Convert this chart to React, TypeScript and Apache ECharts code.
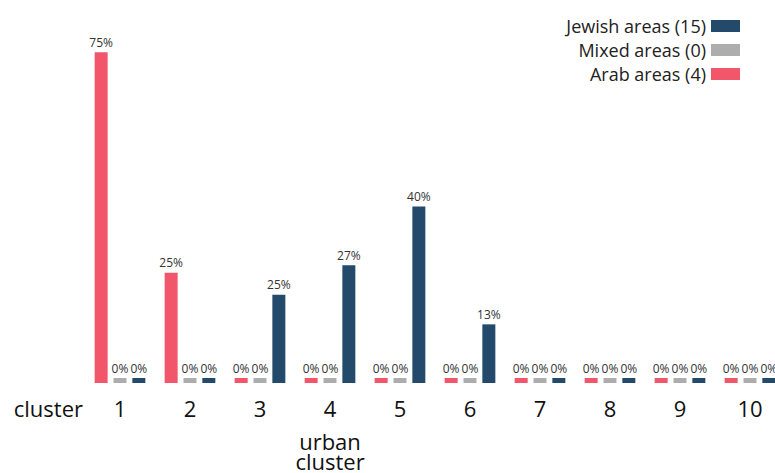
import React, { useEffect, useRef } from "react";
import * as echarts from "echarts";

const categories = ["1", "2", "3", "4", "5", "6", "7", "8", "9", "10"];
const arabValues = [75, 25, 0, 0, 0, 0, 0, 0, 0, 0];
const mixedValues = [0, 0, 0, 0, 0, 0, 0, 0, 0, 0];
const jewishValues = [0, 0, 20, 26.7, 40, 13.3, 0, 0, 0, 0];
const arabLabels = ["75%", "25%", "0%", "0%", "0%", "0%", "0%", "0%", "0%", "0%"];
const mixedLabels = ["0%", "0%", "0%", "0%", "0%", "0%", "0%", "0%", "0%", "0%"];
const jewishLabels = ["0%", "0%", "25%", "27%", "40%", "13%", "0%", "0%", "0%", "0%"];
const seriesNames = ["Arab areas (4)", "Mixed areas (0)", "Jewish areas (15)"];
const legendOrder = ["Jewish areas (15)", "Mixed areas (0)", "Arab areas (4)"];
const colors = ["#f2566a", "#adadad", "#234a6b"];

const FONT = "Open Sans";

export default function App() {
  const ref = useRef<HTMLDivElement>(null);
  useEffect(() => {
    if (!ref.current) return;
    const chart = echarts.init(ref.current, null, { renderer: "svg" });
    const values = [arabValues, mixedValues, jewishValues];
    const labels = [arabLabels, mixedLabels, jewishLabels];
    const axisText = (text: string, x: number, y: number, align: string) => ({
      type: "text",
      x,
      y,
      style: {
        text,
        fontSize: 22,
        fontFamily: FONT,
        fill: "#111",
        textAlign: align,
        textVerticalAlign: "middle",
      },
    });
    chart.setOption({
      animation: false,
      textStyle: { fontFamily: FONT },
      grid: { left: 85, right: 5, top: 30.2, bottom: 90, containLabel: false },
      legend: {
        data: legendOrder,
        orient: "vertical",
        right: 45,
        top: 12,
        align: "right",
        itemWidth: 29,
        itemHeight: 12,
        itemGap: 6,
        icon: "rect",
        textStyle: { fontSize: 18, lineHeight: 18, color: "#222", fontFamily: FONT },
      },
      xAxis: {
        type: "category",
        data: categories,
        axisLine: { show: false },
        axisTick: { show: false },
        axisLabel: { fontSize: 22, color: "#111", margin: 14, fontFamily: FONT },
      },
      yAxis: {
        type: "value",
        min: 0,
        max: 80,
        show: false,
        splitLine: { show: false },
      },
      series: seriesNames.map((name, i) => ({
        name,
        type: "bar",
        data: values[i],
        barWidth: 13,
        barGap: "45%",
        barMinHeight: 5,
        itemStyle: { color: colors[i] },
        label: {
          show: true,
          position: "top",
          distance: 4,
          fontSize: 12,
          color: "#333",
          fontFamily: FONT,
          formatter: (p: any) => labels[i][p.dataIndex],
        },
      })),
      graphic: [
        axisText("cluster", 83, 408, "right"),
        axisText("urban", 330, 441, "center"),
        axisText("cluster", 330, 461, "center"),
      ],
    });
    return () => chart.dispose();
  }, []);
  return (
    <div style={{ position: "fixed", left: 0, top: 0, width: 775, height: 473, overflow: "hidden", background: "#fff" }}>
      <div ref={ref} style={{ width: 790, height: 473 }} />
    </div>
  );
}
